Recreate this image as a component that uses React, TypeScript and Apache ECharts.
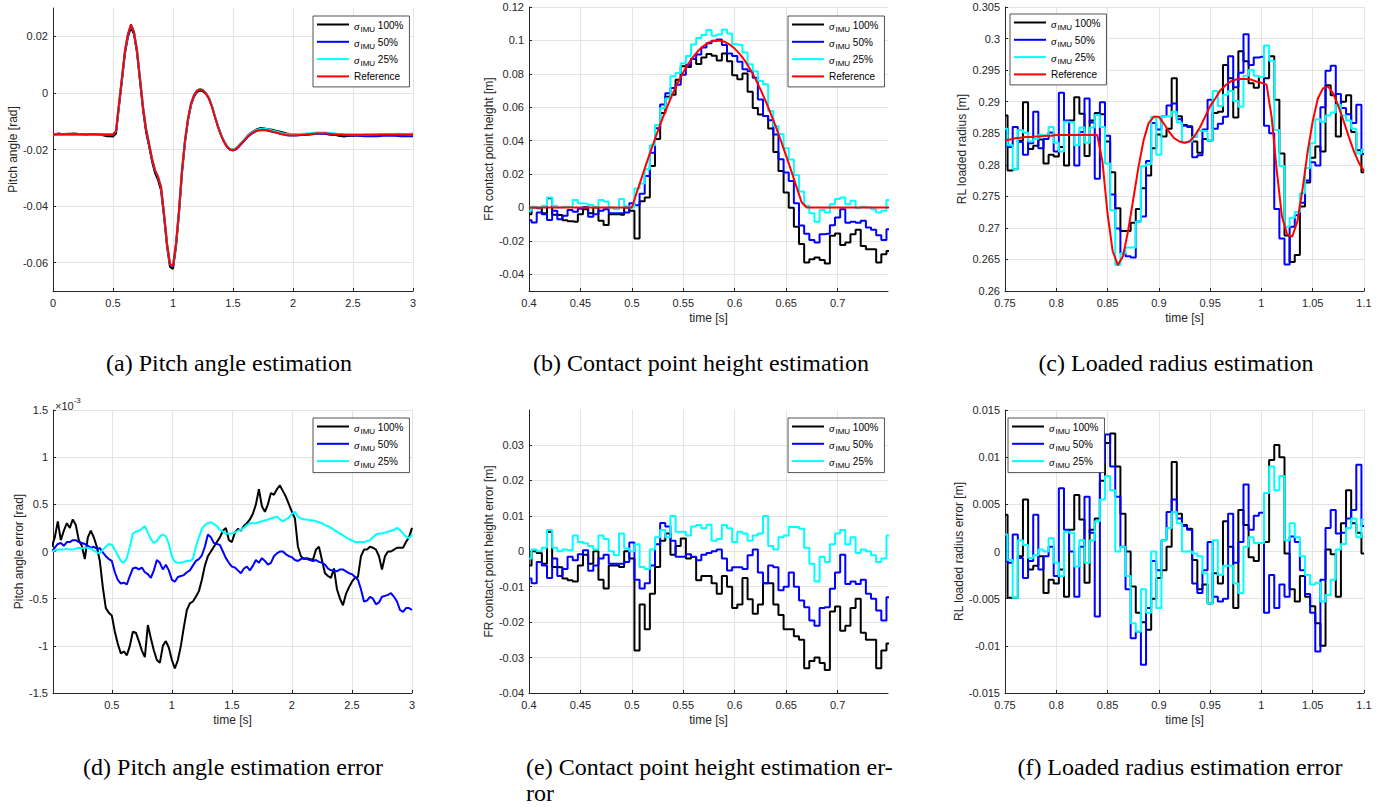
import React, { useEffect, useRef } from "react";
import * as echarts from "echarts";

// ---------------- (a)/(d) pitch angle: time grid [s] ----------------
const T_A = [
  0, 0.025, 0.05, 0.075, 0.1, 0.125, 0.15, 0.175, 0.2, 0.225,
  0.25, 0.275, 0.3, 0.325, 0.35, 0.375, 0.4, 0.425, 0.45, 0.475,
  0.5, 0.525, 0.55, 0.575, 0.6, 0.625, 0.65, 0.675, 0.7, 0.725,
  0.75, 0.775, 0.8, 0.825, 0.85, 0.875, 0.9, 0.925, 0.95, 0.975,
  1, 1.025, 1.05, 1.075, 1.1, 1.125, 1.15, 1.175, 1.2, 1.225,
  1.25, 1.275, 1.3, 1.325, 1.35, 1.375, 1.4, 1.425, 1.45, 1.475,
  1.5, 1.525, 1.55, 1.575, 1.6, 1.625, 1.65, 1.675, 1.7, 1.725,
  1.75, 1.775, 1.8, 1.825, 1.85, 1.875, 1.9, 1.925, 1.95, 1.975,
  2, 2.025, 2.05, 2.075, 2.1, 2.125, 2.15, 2.175, 2.2, 2.225,
  2.25, 2.275, 2.3, 2.325, 2.35, 2.375, 2.4, 2.425, 2.45, 2.475,
  2.5, 2.525, 2.55, 2.575, 2.6, 2.625, 2.65, 2.675, 2.7, 2.725,
  2.75, 2.775, 2.8, 2.825, 2.85, 2.875, 2.9, 2.925, 2.95, 2.975,
  3,
];
// reference pitch angle [rad]
const REF_A = [
  -0.0147, -0.0147, -0.0147, -0.0147, -0.0147, -0.0147, -0.0147, -0.0147, -0.0147, -0.0147,
  -0.0147, -0.0147, -0.0147, -0.0147, -0.0147, -0.0147, -0.0147, -0.0147, -0.0147, -0.0147,
  -0.0147, -0.0135, -0.0038, 0.0056, 0.0151, 0.0209, 0.0242, 0.0215, 0.0151, 0.0051,
  -0.0049, -0.0126, -0.0179, -0.0232, -0.0273, -0.0296, -0.0332, -0.0426, -0.0532, -0.0605,
  -0.061, -0.0532, -0.0414, -0.0273, -0.0167, -0.0091, -0.0038, -0.0008, 0.0008, 0.0013,
  0.0009, -0.0002, -0.002, -0.0049, -0.0085, -0.012, -0.0149, -0.0173, -0.019, -0.02,
  -0.0202, -0.0198, -0.0188, -0.0176, -0.0165, -0.0153, -0.0144, -0.0138, -0.0133, -0.0131,
  -0.013, -0.0131, -0.0133, -0.0136, -0.0139, -0.0142, -0.0145, -0.0147, -0.0149, -0.015,
  -0.015, -0.015, -0.0149, -0.0148, -0.0147, -0.0146, -0.0145, -0.0144, -0.0143, -0.0143,
  -0.0143, -0.0143, -0.0144, -0.0145, -0.0146, -0.0147, -0.0147, -0.0148, -0.0148, -0.0148,
  -0.0148, -0.0148, -0.0148, -0.0148, -0.0148, -0.0148, -0.0148, -0.0148, -0.0148, -0.0147,
  -0.0147, -0.0147, -0.0147, -0.0147, -0.0147, -0.0147, -0.0147, -0.0147, -0.0147, -0.0147,
  -0.0147,
];
// pitch angle error [x1e-3 rad]
const ERR_D_100 = [
  0.05, 0.15, 0.32, 0.12, 0.22, 0.3, 0.25, 0.34, 0.28, 0.12,
  0.06, -0.08, 0.15, 0.22, 0.15, 0.05, -0.1, -0.38, -0.6, -0.65,
  -0.68, -0.85, -0.98, -1.08, -1.06, -1.1, -1.0, -0.85, -0.86, -0.95,
  -1.05, -1.12, -0.78, -0.92, -1.05, -1.15, -1.18, -1.0, -0.95, -1.02,
  -1.15, -1.24, -1.15, -1.0, -0.8, -0.62, -0.55, -0.53, -0.48, -0.42,
  -0.3, -0.15, -0.05, 0.0, 0.05, 0.1, 0.15, 0.22, 0.25, 0.12,
  0.1, 0.2, 0.24, 0.22, 0.27, 0.3, 0.34, 0.4, 0.5, 0.66,
  0.48, 0.42, 0.5, 0.62, 0.6, 0.66, 0.7, 0.64, 0.58, 0.5,
  0.42, 0.35, 0.05, -0.05, -0.08, -0.07, -0.08, -0.09, 0.02, 0.05,
  -0.09, -0.23, -0.26, -0.28, -0.18, -0.4, -0.5, -0.57, -0.45, -0.38,
  -0.32, -0.28, -0.27, -0.05, 0.02, 0.02, 0.05, 0.04, 0.02, -0.05,
  -0.19, -0.05, 0.0, 0.0, 0.02, 0.04, 0.04, 0.04, 0.1, 0.15,
  0.25,
];
const ERR_D_50 = [
  0.0, 0.04, 0.08, 0.09, 0.06, 0.1, 0.1, 0.12, 0.12, 0.1,
  0.09, 0.08, 0.06, 0.04, 0.05, 0.03, 0.035, -0.01, -0.05, -0.08,
  -0.1, -0.22, -0.3, -0.34, -0.33, -0.35, -0.26, -0.18, -0.17, -0.19,
  -0.17, -0.22, -0.24, -0.28, -0.2, -0.09, -0.12, -0.19, -0.14, -0.2,
  -0.3, -0.32, -0.27, -0.26, -0.25, -0.22, -0.2, -0.15, -0.1, -0.08,
  -0.04, 0.05, 0.18, 0.15, 0.09, 0.08, 0.07, 0.0, -0.07, -0.12,
  -0.16, -0.17, -0.2, -0.23, -0.18, -0.16, -0.2, -0.15, -0.09, -0.12,
  -0.07, -0.1, -0.14, -0.12, -0.05, -0.02, 0.0, 0.0, -0.03, -0.05,
  -0.06, -0.09, -0.1, -0.08, -0.07, -0.08, -0.09, -0.1, -0.09, -0.11,
  -0.12, -0.14, -0.18, -0.2, -0.2, -0.21, -0.19, -0.19, -0.21, -0.23,
  -0.24, -0.27, -0.3, -0.4, -0.53, -0.52, -0.48, -0.5, -0.56, -0.54,
  -0.48, -0.47, -0.46, -0.44, -0.48, -0.53, -0.62, -0.64, -0.6, -0.6,
  -0.62,
];
const ERR_D_25 = [
  0.0, 0.01, 0.02, 0.02, 0.02, 0.03, 0.02, 0.02, 0.03, 0.04,
  0.035, 0.04, 0.04, 0.03, 0.01, -0.01, -0.02, 0.02, 0.05, 0.08,
  0.07, 0.02, -0.04, -0.1, -0.12, -0.07, 0.05, 0.19, 0.21, 0.22,
  0.24, 0.27, 0.2, 0.13, 0.09, 0.11, 0.16, 0.18, 0.16, 0.08,
  -0.05, -0.11, -0.12, -0.12, -0.11, -0.1, -0.1, -0.08, 0.05, 0.15,
  0.24, 0.28, 0.3, 0.31, 0.29, 0.27, 0.23, 0.21, 0.19, 0.19,
  0.19, 0.2, 0.22, 0.23, 0.25, 0.28, 0.3, 0.3, 0.3, 0.31,
  0.32, 0.33, 0.34, 0.35, 0.36, 0.37, 0.34, 0.32, 0.34, 0.36,
  0.4, 0.42, 0.37, 0.35, 0.34, 0.34, 0.33, 0.33, 0.32, 0.31,
  0.3, 0.28, 0.27, 0.25, 0.23, 0.21, 0.19, 0.17, 0.15, 0.13,
  0.12, 0.1, 0.1, 0.1, 0.1, 0.11, 0.12, 0.15, 0.18, 0.19,
  0.19, 0.2, 0.21, 0.22, 0.23, 0.25, 0.23, 0.19, 0.16, 0.14,
  0.18,
];

// ---------------- (b)/(e) FR contact point height ----------------
const T_B = [
  0.4, 0.405, 0.41, 0.415, 0.42, 0.425, 0.43, 0.435, 0.44, 0.445,
  0.45, 0.455, 0.46, 0.465, 0.47, 0.475, 0.48, 0.485, 0.49, 0.495,
  0.5, 0.505, 0.51, 0.515, 0.52, 0.525, 0.53, 0.535, 0.54, 0.545,
  0.55, 0.555, 0.56, 0.565, 0.57, 0.575, 0.58, 0.585, 0.59, 0.595,
  0.6, 0.605, 0.61, 0.615, 0.62, 0.625, 0.63, 0.635, 0.64, 0.645,
  0.65, 0.655, 0.66, 0.665, 0.67, 0.675, 0.68, 0.685, 0.69, 0.695,
  0.7, 0.705, 0.71, 0.715, 0.72, 0.725, 0.73, 0.735, 0.74, 0.745,
  0.75,
];
// reference contact point height [m]
const REF_B = [
  0, 0, 0, 0, 0, 0, 0, 0, 0, 0,
  0, 0, 0, 0, 0, 0, 0, 0, 0, 0,
  0, 0.0094, 0.0187, 0.0279, 0.0368, 0.0454, 0.0536, 0.0613, 0.0685, 0.075,
  0.0809, 0.0861, 0.0905, 0.0941, 0.0968, 0.0988, 0.0998, 0.1, 0.0992, 0.0976,
  0.0951, 0.0918, 0.0877, 0.0827, 0.0771, 0.0707, 0.0638, 0.0562, 0.0482, 0.0398,
  0.0309, 0.0218, 0.0125, 0.0031, 0, 0, 0, 0, 0, 0,
  0, 0, 0, 0, 0, 0, 0, 0, 0, 0,
  0,
];
// contact point height error [mm]
const ERR_E_100 = [
  -4.0, 0.0, -0.5, -3.5, 5.5, -4.4, -4.5, -7.7, -8.2, -8.5,
  -4.0, -1.0, -3.5, 0.0, -8.0, -10.5, -4.0, -4.0, -4.4, 0.0,
  -2.0, -28.0, -15.0, -22.0, -12.0, -4.4, 3.0, 5.0, -1.0, 1.5,
  3.6, -2.0, -1.6, -8.2, -7.0, -7.0, -9.0, -12.0, -7.0, -10.0,
  -16.0, -15.0, -7.5, -13.5, -17.6, -15.0, -9.0, -9.0, -15.0, -18.0,
  -22.0, -22.0, -24.0, -25.0, -33.0, -31.0, -30.0, -31.5, -33.5, -17.0,
  -15.6, -22.4, -21.0, -16.0, -13.4, -23.0, -25.0, -25.0, -33.0, -28.0,
  -26.0,
];
const ERR_E_50 = [
  -7.7, -9.0, -3.0, -4.0, -7.5, -2.0, -7.0, -5.0, -1.5, -2.5,
  -0.8, 0.3, -5.5, -4.0, -2.0, -1.0, -3.5, -3.5, -3.5, -3.0,
  2.5, -8.0, -10.5, -9.0, -4.0, 2.0, 8.0, 7.0, 3.0, -1.5,
  -1.5, -0.8, -1.5, -2.5, -1.0, -0.5, 0.0, 0.5, -2.0, -5.4,
  -4.5, -4.5, -5.0, -1.1, 0.5, -6.0, -9.0, -4.0, -4.5, -11.0,
  -10.0, -6.0, -10.0, -13.9, -15.8, -19.5, -21.0, -16.0, -15.8, -10.6,
  -6.0, -1.0, -9.2, -8.5, -9.2, -8.0, -12.0, -13.4, -16.7, -19.5,
  -13.0,
];
const ERR_E_25 = [
  -2.0, 0.5, 0.0, 1.0, 6.0, 1.0, 0.0, 0.5, 0.3, 4.5,
  2.6, 2.3, 1.5, 0.5, 4.5, 3.5, 0.0, -1.1, 5.0, 0.8,
  0.0, 2.0, -4.4, -5.0, 0.5, 4.0, 6.0, 4.0, 10.0, 5.5,
  5.5, 4.5, 7.0, 7.4, 6.5, 7.5, 3.0, 3.5, 7.4, 6.5,
  2.6, 5.5, 5.0, 3.0, 4.5, 5.0, 10.0, 1.5, 0.5, 4.0,
  4.5, 6.9, 6.9, 6.4, 1.0, -3.5, -8.5, -1.5, -3.0, 2.0,
  5.0, 6.0, 2.0, 4.0, -0.5, 0.5, 0.0, -1.1, -3.0, -2.0,
  4.5,
];

// ---------------- (c)/(f) RL loaded radius ----------------
const T_C = [
  0.75, 0.755, 0.76, 0.765, 0.77, 0.775, 0.78, 0.785, 0.79, 0.795,
  0.8, 0.805, 0.81, 0.815, 0.82, 0.825, 0.83, 0.835, 0.84, 0.845,
  0.85, 0.855, 0.86, 0.865, 0.87, 0.875, 0.88, 0.885, 0.89, 0.895,
  0.9, 0.905, 0.91, 0.915, 0.92, 0.925, 0.93, 0.935, 0.94, 0.945,
  0.95, 0.955, 0.96, 0.965, 0.97, 0.975, 0.98, 0.985, 0.99, 0.995,
  1, 1.005, 1.01, 1.015, 1.02, 1.025, 1.03, 1.035, 1.04, 1.045,
  1.05, 1.055, 1.06, 1.065, 1.07, 1.075, 1.08, 1.085, 1.09, 1.095,
  1.1,
];
// reference loaded radius [m]
const REF_C = [
  0.2839, 0.284, 0.2842, 0.2843, 0.2844, 0.2844, 0.2845, 0.2845, 0.2846, 0.2846,
  0.2847, 0.2847, 0.2847, 0.2847, 0.2847, 0.2847, 0.2847, 0.2847, 0.2847, 0.2805,
  0.2722, 0.2663, 0.2641, 0.2655, 0.2695, 0.2745, 0.2795, 0.2838, 0.2866, 0.2876,
  0.2876, 0.2865, 0.2852, 0.2842, 0.2837, 0.2835, 0.2837, 0.2846, 0.2859, 0.2876,
  0.2893, 0.2905, 0.2918, 0.2926, 0.2932, 0.2935, 0.2936, 0.2936, 0.2935, 0.2932,
  0.293, 0.2927, 0.2875, 0.279, 0.2718, 0.269, 0.2686, 0.271, 0.276, 0.282,
  0.2869, 0.2905, 0.2921, 0.2924, 0.2913, 0.2893, 0.287, 0.2845, 0.2822, 0.2803,
  0.279,
];
// loaded radius error [mm]
const ERR_F_100 = [
  3.9, -4.9, -4.9, -0.5, 5.5, -1.9, -1.5, -0.5, -4.4, -3.0,
  -3.4, -1.9, -4.8, 2.3, 6.0, 3.4, -3.3, 2.3, 3.5, 7.5,
  11.5, 12.5, 9.0, 4.0, 0.0, -3.7, -6.5, -7.5, -8.3, -5.0,
  -2.8, -2.0, 0.5, 9.5, 4.0, 2.8, 2.4, -0.9, -4.0, -3.5,
  -5.5, -2.3, -3.4, 3.2, 0.5, -6.0, 4.4, 2.8, -0.6, -1.0,
  0.9, 1.0, 9.7, 11.3, 10.0, -0.2, -4.0, -5.3, -2.6, -4.8,
  -5.8, -7.6, -10.0, 0.2, -0.3, -4.8, 3.0, 6.5, 3.0, 2.0,
  -0.2,
];
const ERR_F_50 = [
  1.8, -1.2, 1.8, -0.7, -2.8, -1.0, 3.9, -1.9, -0.5, 0.5,
  -2.6, 6.7, 2.3, 0.0, -4.8, 0.5, 5.8, 2.0, -6.9, 9.4,
  12.4, 9.0, 5.8, 0.5, -4.0, -9.2, -8.5, -12.0, -6.0, -1.0,
  -2.0, 1.2, 4.2, 5.5, 3.5, 2.7, 2.3, -3.4, -4.4, -2.0,
  1.0, -4.8, -5.3, -5.0, 4.0, -1.2, 1.0, 7.1, 2.3, 3.8,
  4.1, -6.5, -2.5, -6.0, -3.5, -4.8, 1.6, 1.0, -2.0, -4.5,
  -6.5, -10.6, -3.0, 2.5, 4.4, 1.9, 2.0, 3.5, 4.4, 9.2,
  2.7,
];
const ERR_F_25 = [
  1.8, -0.9, -4.9, 1.2, 0.7, -0.7, -0.4, 0.2, 0.0, 1.4,
  -1.2, -2.6, 2.1, 2.0, -1.6, 1.2, -1.2, 1.2, 3.2, 5.5,
  8.0, 6.5, 0.0, 0.5, -2.6, -7.6, -8.5, -4.0, -6.5, 0.0,
  -6.0, 1.2, 2.5, 4.2, 3.0, 0.0, 0.0, -0.2, -0.5, -2.3,
  -5.5, 1.2, -2.5, -1.5, -1.5, -3.4, -4.4, 0.5, 1.5, 0.9,
  0.9, 6.2, 9.0, 6.5, 8.0, 1.2, 3.0, 1.5, -0.5, -2.5,
  -3.5, -3.3, -5.3, -4.6, -3.0, 0.2, 0.8, 2.5, 3.5, 1.5,
  3.4,
];

// ---------------- tick values ----------------
const X_TICKS_A = [0, 0.5, 1, 1.5, 2, 2.5, 3];
const X_TICKS_D = [0.5, 1, 1.5, 2, 2.5, 3];
const X_TICKS_B = [0.4, 0.45, 0.5, 0.55, 0.6, 0.65, 0.7];
const X_TICKS_C = [0.75, 0.8, 0.85, 0.9, 0.95, 1, 1.05, 1.1];
const Y_TICKS_A = [-0.06, -0.04, -0.02, 0, 0.02];
const Y_TICKS_B = [-0.04, -0.02, 0, 0.02, 0.04, 0.06, 0.08, 0.1, 0.12];
const Y_TICKS_C = [0.26, 0.265, 0.27, 0.275, 0.28, 0.285, 0.29, 0.295, 0.3, 0.305];
const Y_TICKS_D = [-1.5, -1, -0.5, 0, 0.5, 1, 1.5];
const Y_TICKS_E = [-0.04, -0.03, -0.02, -0.01, 0, 0.01, 0.02, 0.03];
const Y_TICKS_F = [-0.015, -0.01, -0.005, 0, 0.005, 0.01, 0.015];

const LEVELS = ["100", "50", "25"];
const CAPTIONS = [
  "(a) Pitch angle estimation",
  "(b) Contact point height estimation",
  "(c) Loaded radius estimation",
  "(d) Pitch angle estimation error",
  "(e) Contact point height estimation er-",
  "ror",
  "(f) Loaded radius estimation error",
];

// ---------------- styles / layout ----------------
const SANS = "'Liberation Sans', Arial, Helvetica, sans-serif";
const SERIF = "'Liberation Serif', 'Times New Roman', serif";
const AX = "#262626";
const GRIDC = "#e4e4e4";
const COLORS: Record<string, string> = { "100": "#000000", "50": "#0000ff", "25": "#00ffff", Reference: "#ff0000" };
const LEGEND_ICON = "path://M0,0H32V2H0Z";

const fmt = (v: number) => String(parseFloat(Number(v).toFixed(6)));
const pairs = (t: number[], v: number[]) => t.map((x, i) => [x, v[i]]);
const addErr = (ref: number[], err: number[], k: number) => ref.map((r, i) => r + err[i] * k);

function xAxis(gi: number, min: number, max: number, ticks: number[], named: boolean) {
  return {
    type: "value", gridIndex: gi, min, max,
    name: named ? "time [s]" : "", nameLocation: "middle", nameGap: 21,
    nameTextStyle: { color: AX, fontSize: 12, fontFamily: SANS },
    axisLine: { show: true, onZero: false, lineStyle: { color: AX, width: 1 } },
    axisTick: { show: true, inside: true, length: 3, customValues: ticks, lineStyle: { color: AX, width: 1 } },
    axisLabel: { color: AX, fontSize: 11, fontFamily: SANS, margin: 6, customValues: ticks, formatter: fmt, hideOverlap: false },
    splitLine: { show: true, lineStyle: { color: GRIDC, width: 1 } },
  };
}
function yAxis(gi: number, min: number, max: number, ticks: number[], name: string, gap: number) {
  return {
    type: "value", gridIndex: gi, min, max,
    name, nameLocation: "middle", nameGap: gap, nameRotate: 90,
    nameTextStyle: { color: AX, fontSize: 12, fontFamily: SANS },
    axisLine: { show: true, onZero: false, lineStyle: { color: AX, width: 1 } },
    axisTick: { show: true, inside: true, length: 3, customValues: ticks, lineStyle: { color: AX, width: 1 } },
    axisLabel: { color: AX, fontSize: 11, fontFamily: SANS, margin: 5, customValues: ticks, formatter: fmt, hideOverlap: false },
    splitLine: { show: true, lineStyle: { color: GRIDC, width: 1 } },
  };
}
function line(name: string, data: number[][], idx: number, step: any, z: number) {
  return {
    type: "line", name, data, xAxisIndex: idx, yAxisIndex: idx,
    showSymbol: false, symbol: "none", step, clip: true, silent: true, z,
    lineStyle: { color: COLORS[name], width: 2 }, itemStyle: { color: COLORS[name] },
  };
}
function legend(left: number, top: number, names: string[]) {
  return {
    left, top, orient: "vertical", selectedMode: false,
    data: names.map((n) => ({ name: n, icon: LEGEND_ICON })),
    itemWidth: 32, itemHeight: 14, itemGap: 3.3, padding: [3, 6, 3, 4],
    backgroundColor: "#ffffff", borderColor: AX, borderWidth: 0.8, borderRadius: 0,
    formatter: (n: string) => (n === "Reference" ? "{n|Reference}" : `{s|σ}{sub|IMU}{n| ${n}%}`),
    textStyle: {
      color: "#000", fontFamily: SANS, fontSize: 10,
      rich: {
        n: { fontFamily: SANS, fontSize: 10, lineHeight: 11, padding: [1, 0, 2, 0], verticalAlign: "top" },
        s: { fontFamily: SERIF, fontStyle: "italic", fontSize: 11, lineHeight: 11, padding: [1, 0, 2, 0], verticalAlign: "top" },
        sub: { fontFamily: SANS, fontSize: 8, lineHeight: 8, padding: [6, 0, 0, 1], verticalAlign: "top" },
      },
    },
  };
}
function caption(text: string, x: number, y: number, align: string) {
  return {
    type: "text", x, y, silent: true,
    style: { text, fill: "#000", font: `24px ${SERIF}`, align, textAlign: align, verticalAlign: "middle", textVerticalAlign: "middle" },
  };
}

export default function App() {
  const ref = useRef<HTMLDivElement>(null);
  useEffect(() => {
    if (!ref.current) return;
    const chart = echarts.init(ref.current, null, { renderer: "svg" });
    const grids = [
      { left: 53, top: 8, width: 360, height: 283 },
      { left: 529, top: 7, width: 359, height: 284 },
      { left: 1005, top: 7, width: 359, height: 284 },
      { left: 53, top: 410, width: 359, height: 283 },
      { left: 529, top: 410, width: 359, height: 283 },
      { left: 1005, top: 410, width: 359, height: 283 },
    ];
    const errD = [ERR_D_100, ERR_D_50, ERR_D_25];
    const errE = [ERR_E_100, ERR_E_50, ERR_E_25];
    const errF = [ERR_F_100, ERR_F_50, ERR_F_25];
    const series: any[] = [];
    LEVELS.forEach((lv, i) => {
      series.push(line(lv, pairs(T_A, addErr(REF_A, errD[i], 1e-3)), 0, false, 2 + i));
      series.push(line(lv, pairs(T_B, addErr(REF_B, errE[i], 1e-3)), 1, "middle", 2 + i));
      series.push(line(lv, pairs(T_C, addErr(REF_C, errF[i], 1e-3)), 2, "middle", 2 + i));
      series.push(line(lv, pairs(T_A, errD[i]), 3, false, 2 + i));
      series.push(line(lv, pairs(T_B, errE[i].map((v) => v * 1e-3)), 4, "middle", 2 + i));
      series.push(line(lv, pairs(T_C, errF[i].map((v) => v * 1e-3)), 5, "middle", 2 + i));
    });
    series.push(line("Reference", pairs(T_A, REF_A), 0, false, 6));
    series.push(line("Reference", pairs(T_B, REF_B), 1, false, 6));
    series.push(line("Reference", pairs(T_C, REF_C), 2, false, 6));

    const four = [...LEVELS, "Reference"];
    chart.setOption({
      animation: false,
      backgroundColor: "#ffffff",
      grid: grids.map((g) => ({ ...g, show: false, containLabel: false })),
      xAxis: [
        xAxis(0, 0, 3, X_TICKS_A, false),
        xAxis(1, 0.4, 0.749, X_TICKS_B, true),
        xAxis(2, 0.75, 1.1, X_TICKS_C, true),
        xAxis(3, 0.01, 3, X_TICKS_D, true),
        xAxis(4, 0.4, 0.749, X_TICKS_B, true),
        xAxis(5, 0.75, 1.1, X_TICKS_C, true),
      ],
      yAxis: [
        yAxis(0, -0.07, 0.03, Y_TICKS_A, "Pitch angle [rad]", 33),
        yAxis(1, -0.05, 0.12, Y_TICKS_B, "FR contact point height [m]", 33),
        yAxis(2, 0.26, 0.305, Y_TICKS_C, "RL loaded radius [m]", 37),
        yAxis(3, -1.5, 1.5, Y_TICKS_D, "Pitch angle error [rad]", 28),
        yAxis(4, -0.04, 0.0399, Y_TICKS_E, "FR contact point height error [m]", 33),
        yAxis(5, -0.015, 0.015, Y_TICKS_F, "RL loaded radius error [m]", 40),
      ],
      legend: [
        legend(313, 16, four),
        legend(788, 16, four),
        legend(1010, 14, four),
        legend(313, 418, LEVELS),
        legend(788, 418, LEVELS),
        legend(1008, 418, LEVELS),
      ],
      series,
      graphic: [
        caption(CAPTIONS[0], 229, 363, "center"),
        caption(CAPTIONS[1], 701, 363, "center"),
        caption(CAPTIONS[2], 1176, 363, "center"),
        caption(CAPTIONS[3], 233, 767, "center"),
        caption(CAPTIONS[4], 526, 767, "left"),
        caption(CAPTIONS[5], 526, 793, "left"),
        caption(CAPTIONS[6], 1180, 767, "center"),
        {
          type: "text", x: 55, y: 396, silent: true,
          style: {
            text: "{a|×10}{b|-3}", fill: AX, font: `11px ${SANS}`,
            rich: {
              a: { fontFamily: SANS, fontSize: 11, fill: AX, lineHeight: 11, padding: [4, 0, 0, 0], verticalAlign: "top" },
              b: { fontFamily: SANS, fontSize: 8, fill: AX, lineHeight: 8, padding: [0, 0, 7, 0], verticalAlign: "top" },
            },
          },
        },
      ],
    });
    return () => chart.dispose();
  }, []);
  return <div ref={ref} style={{ position: "absolute", left: 0, top: 0, width: 1384, height: 807, background: "#fff" }} />;
}
